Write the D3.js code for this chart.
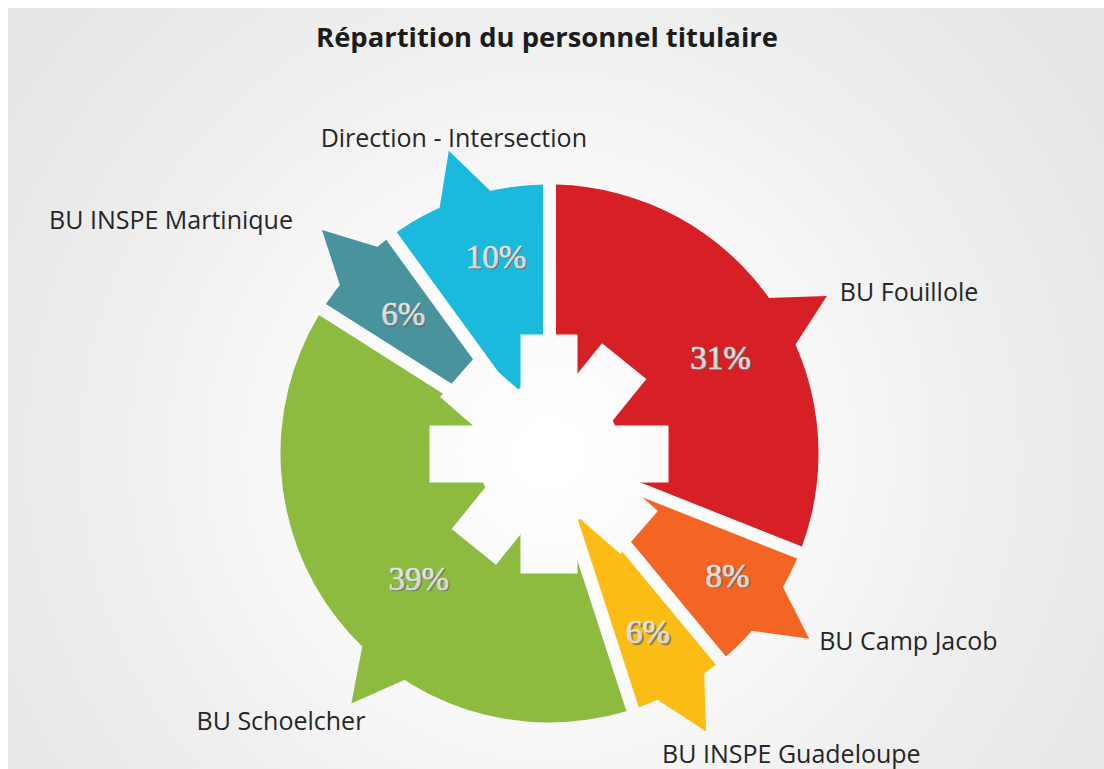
<!DOCTYPE html>
<html>
<head>
<meta charset="utf-8">
<script src="https://cdn.jsdelivr.net/npm/d3@7"></script>
<style>
  body { margin: 0; background: #fff; }
  svg { display: block; }
  .title { font-family: "Open Sans", sans-serif; font-weight: bold; font-size: 27.4px; fill: #1c1c1c; }
  .name { font-family: "Open Sans", "Noto Sans", sans-serif; font-size: 25px; fill: #262626; }
  .pct { font-family: "Liberation Serif", serif; font-size: 33px; }
</style>
</head>
<body>
<svg width="1104" height="769"></svg>
<script>
// data
var categories = ["BU Fouillole", "BU Camp Jacob", "BU INSPE Guadeloupe", "BU Schoelcher", "BU INSPE Martinique", "Direction - Intersection"]
var shares = [31, 8, 6, 39, 6, 10]
var pctLabels = ["31%", "8%", "6%", "39%", "6%", "10%"]
var colors = ["#d71f26", "#f46524", "#fbbd15", "#8dbb40", "#48939c", "#1bbadd"]

var W = 1104, H = 769
var cx = 549.5, cy = 453.5, R = 269, tipR = 319, gap = 13
var rad = Math.PI / 180

// layout tweaks: arrow turn (deg), name offset from arrow tip, anchor
var layout = {
  "BU Fouillole":            {turn: 4.6,   dx: 13,  dy: 5,  anchor: "start",  pa: 0.3, pr: 196},
  "BU Camp Jacob":           {turn: -0.5,  dx: 10,  dy: 11, anchor: "start",  pa: -1,  pr: 216},
  "BU INSPE Guadeloupe":     {turn: -0.6,  dx: -44, dy: 32, anchor: "start",  pa: 0.5, pr: 204},
  "BU Schoelcher":           {turn: -13.8, dx: 14,  dy: 27, anchor: "end",    pa: 7.9, pr: 181},
  "BU INSPE Martinique":     {turn: 1.3,   dx: -29, dy: -1, anchor: "end",    pa: -0.9, pr: 202},
  "Direction - Intersection":{turn: -0.4,  dx: 5,   dy: -4, anchor: "middle", pa: 3.2, pr: 204}
}

var svg = d3.select("svg")
var defs = svg.append("defs")

var bg = defs.append("radialGradient").attr("id", "bg")
  .attr("gradientUnits", "userSpaceOnUse")
  .attr("cx", cx).attr("cy", cy).attr("r", 660)
bg.append("stop").attr("offset", 0).attr("stop-color", "#ffffff")
bg.append("stop").attr("offset", 0.3).attr("stop-color", "#fcfcfc")
bg.append("stop").attr("offset", 0.65).attr("stop-color", "#efefef")
bg.append("stop").attr("offset", 1).attr("stop-color", "#e6e6e6")

var starG = defs.append("radialGradient").attr("id", "star")
  .attr("gradientUnits", "userSpaceOnUse")
  .attr("cx", 0).attr("cy", 0).attr("r", 125)
starG.append("stop").attr("offset", 0).attr("stop-color", "#ffffff")
starG.append("stop").attr("offset", 0.5).attr("stop-color", "#fefefe")
starG.append("stop").attr("offset", 1).attr("stop-color", "#fafafa")

var pctG = defs.append("linearGradient").attr("id", "pctfill")
  .attr("x1", 0).attr("y1", 0).attr("x2", 0).attr("y2", 1)
pctG.append("stop").attr("offset", 0).attr("stop-color", "#f0f0f0")
pctG.append("stop").attr("offset", 1).attr("stop-color", "#c8c8c8")

svg.append("rect")
  .attr("x", 8).attr("y", 8)
  .attr("width", W - 8).attr("height", H - 8)
  .attr("fill", "url(#bg)")

svg.append("text")
  .attr("class", "title")
  .attr("x", 547).attr("y", 47)
  .attr("text-anchor", "middle")
  .text("Répartition du personnel titulaire")

var data = categories.map(function(c, i){
  return {name: c, value: shares[i], pct: pctLabels[i], color: colors[i]}
})

var pie = d3.pie().sort(null).value(function(d){ return d.value })
var arcs = pie(data)

var arc = d3.arc()
  .innerRadius(45)
  .outerRadius(R)
  .padRadius(R)
  .padAngle(gap / R)

var g = svg.append("g").attr("transform", `translate(${cx},${cy})`)

function arrowAngle(d){
  return (d.startAngle + d.endAngle) / 2 + layout[d.data.name].turn * rad
}

var slices = g.selectAll("g.slice")
  .data(arcs)
  .enter()
  .append("g")
    .attr("class", "slice")

slices.append("path")
  .attr("d", arc)
  .attr("fill", function(d){ return d.data.color })

var tri = d3.line()
slices.append("path")
  .attr("d", function(d){
    var a = arrowAngle(d)
    return tri([
      d3.pointRadial(a - 6 * rad, R - 2),
      d3.pointRadial(a, tipR),
      d3.pointRadial(a + 6 * rad, R - 2)
    ]) + "Z"
  })
  .attr("fill", function(d){ return d.data.color })

// white star in the middle
var star = svg.append("g")
  .attr("transform", `translate(549,454)`)
star.selectAll("rect")
  .data([0, 39, 90, 131])
  .enter()
  .append("rect")
    .attr("x", -28.5).attr("y", -119.5)
    .attr("width", 57).attr("height", 239)
    .attr("transform", function(d){ return `rotate(${d})` })
    .attr("fill", "url(#star)")
star.append("circle").attr("r", 72).attr("fill", "url(#star)")

// percentages
var pctG2 = g.selectAll("g.pct")
  .data(arcs)
  .enter()
  .append("g")
    .attr("class", "pct")
    .attr("transform", function(d){
      var L = layout[d.data.name]
      var p = d3.pointRadial(arrowAngle(d) + L.pa * rad, L.pr)
      return `translate(${p[0]},${p[1]})`
    })

pctG2.append("text")
  .attr("x", 1.6).attr("y", 1.3)
  .attr("dy", "0.34em")
  .attr("text-anchor", "middle")
  .attr("fill", "#6a6a6a")
  .attr("stroke", "#6a6a6a")
  .attr("stroke-width", 0.6)
  .attr("opacity", 0.75)
  .text(function(d){ return d.data.pct })

pctG2.append("text")
  .attr("dy", "0.34em")
  .attr("text-anchor", "middle")
  .attr("fill", "url(#pctfill)")
  .attr("stroke", "#dedede")
  .attr("stroke-width", 0.7)
  .text(function(d){ return d.data.pct })

// category names next to the arrow tips
g.selectAll("text.name")
  .data(arcs)
  .enter()
  .append("text")
    .attr("class", "name")
    .attr("text-anchor", function(d){ return layout[d.data.name].anchor })
    .attr("x", function(d){ return d3.pointRadial(arrowAngle(d), tipR)[0] + layout[d.data.name].dx })
    .attr("y", function(d){ return d3.pointRadial(arrowAngle(d), tipR)[1] + layout[d.data.name].dy })
    .text(function(d){ return d.data.name })
</script>
</body>
</html>
